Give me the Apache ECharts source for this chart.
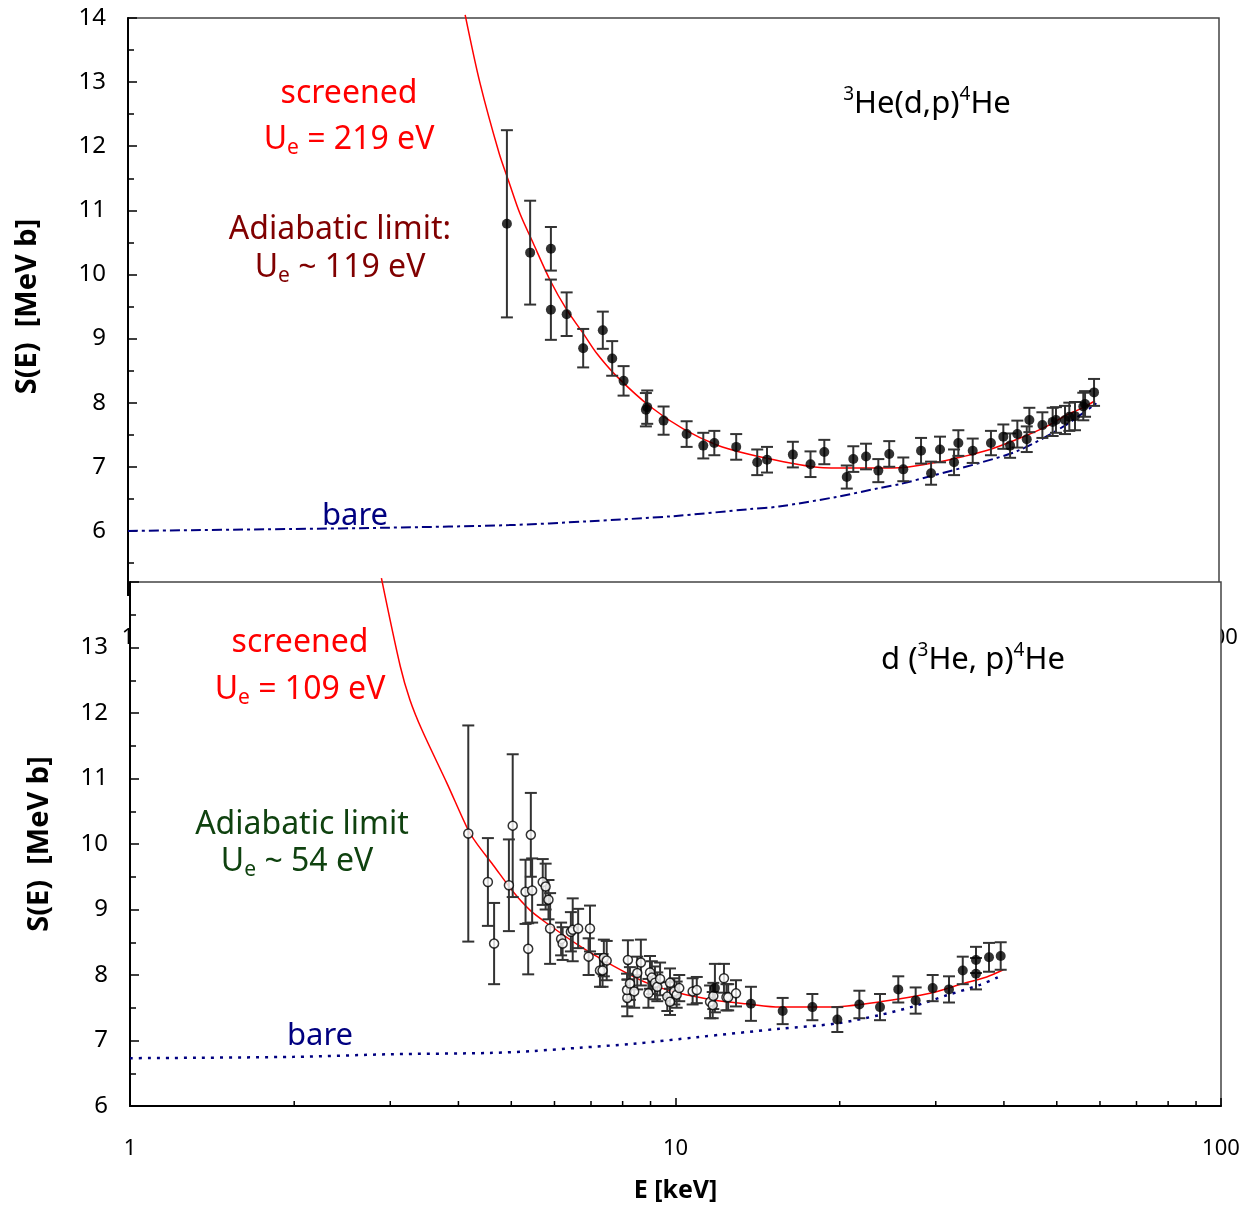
<!DOCTYPE html>
<html>
<head>
<meta charset="utf-8">
<script src="https://cdn.jsdelivr.net/npm/echarts@6/dist/echarts.min.js"></script>
<style>
  html, body { margin: 0; padding: 0; background: #fff; overflow: hidden; }
  #chart { width: 1240px; height: 1206px; }
</style>
</head>
<body>
<div id="chart"></div>
<script>
const FONT = '"Comic Sans MS", "Noto Sans", sans-serif';

// ---- 3He(d,p)4He : measured S(E) [MeV b] vs E [keV] ----
const dpE   = [4.95, 5.46, 5.96, 5.96, 6.37, 6.83, 7.42, 7.72, 8.10, 8.90, 8.95, 9.59, 10.57, 11.34, 11.88, 13.03,
               14.24, 14.84, 16.55, 17.83, 18.90, 20.78, 21.36, 22.54, 23.74, 24.86, 26.38, 28.43, 29.66, 30.80,
               32.68, 33.28, 35.36, 38.19, 40.24, 41.40, 42.69, 44.42, 44.91, 47.45, 49.55, 50.25, 52.20, 53.16,
               54.45, 56.39, 56.81, 59.01];
const dpS   = [10.79, 10.34, 10.40, 9.45, 9.38, 8.85, 9.13, 8.69, 8.34, 7.89, 7.93, 7.72, 7.51, 7.33, 7.37, 7.31,
               7.07, 7.11, 7.19, 7.04, 7.23, 6.84, 7.12, 7.16, 6.94, 7.20, 6.96, 7.25, 6.90, 7.27,
               7.07, 7.37, 7.25, 7.37, 7.47, 7.33, 7.51, 7.43, 7.73, 7.65, 7.70, 7.73, 7.73, 7.78,
               7.79, 7.94, 7.98, 8.16];
const dpErr = [1.46, 0.81, 0.34, 0.47, 0.34, 0.30, 0.29, 0.27, 0.23, 0.26, 0.26, 0.22, 0.20, 0.20, 0.19, 0.20,
               0.20, 0.20, 0.20, 0.20, 0.19, 0.18, 0.20, 0.20, 0.18, 0.20, 0.185, 0.20, 0.18, 0.20,
               0.20, 0.20, 0.19, 0.19, 0.19, 0.19, 0.21, 0.20, 0.19, 0.20, 0.22, 0.20, 0.22, 0.22,
               0.22, 0.215, 0.20, 0.21];

// screened (Ue = 219 eV) and bare S-factor curves
const dpScreenE = [4.15, 4.42, 4.79, 4.98, 5.23, 5.53, 5.94, 6.37, 6.83, 7.23, 7.87, 9.06, 10.42, 12.0, 13.81,
                   15.90, 18.56, 22.0, 26.38, 30.80, 34.0, 38.04, 43.0, 48.31, 52.58, 56.0, 59.26];
const dpScreenS = [14.05, 12.98, 11.89, 11.47, 10.95, 10.49, 9.91, 9.45, 9.08, 8.77, 8.41, 7.94, 7.59, 7.34, 7.19,
                   7.08, 6.99, 6.98, 6.99, 7.08, 7.16, 7.27, 7.44, 7.63, 7.81, 7.91, 8.03];
const dpBareE = [1, 2, 3, 5, 7, 10, 13.8, 15.6, 19.9, 23.9, 26.0, 29.5, 36.4, 43.1, 51.9, 59.6];
const dpBareS = [6.00, 6.03, 6.05, 6.09, 6.15, 6.23, 6.34, 6.38, 6.53, 6.67, 6.73, 6.85, 7.06, 7.26, 7.63, 7.99];

// ---- d(3He,p)4He : earlier data (open) and new data (filled) ----
const heOpenE = [4.17, 4.53, 4.65, 4.95, 5.03, 5.31, 5.37, 5.43, 5.46, 5.71, 5.78, 5.85, 5.89, 6.17, 6.21, 6.43,
                 6.48, 6.63, 6.93, 6.97, 7.27, 7.35, 7.39, 7.48, 8.16, 8.15, 8.18, 8.25, 8.40, 8.51, 8.64, 8.92,
                 8.98, 9.05, 9.17, 9.26, 9.37, 9.66, 9.77, 9.77, 9.95, 10.05, 10.16, 10.75, 10.94, 11.57, 11.70,
                 11.73, 12.27, 12.40, 12.49, 12.91];
const heOpenS = [10.16, 9.42, 8.48, 9.37, 10.28, 9.27, 8.40, 10.14, 9.29, 9.42, 9.35, 9.15, 8.71, 8.55, 8.48, 8.66,
                 8.69, 8.71, 8.28, 8.71, 8.07, 8.07, 8.26, 8.22, 7.65, 7.77, 8.23, 7.87, 7.75, 8.03, 8.19, 7.72,
                 8.04, 7.96, 7.88, 7.82, 7.94, 7.67, 7.88, 7.59, 7.75, 7.70, 7.80, 7.75, 7.77, 7.59, 7.54,
                 7.68, 7.95, 7.66, 7.66, 7.72];
const heOpenErr = [1.65, 0.67, 0.62, 0.70, 1.09, 0.49, 0.39, 0.64, 0.49, 0.35, 0.35, 0.30, 0.54, 0.25, 0.25, 0.30,
                   0.48, 0.30, 0.28, 0.35, 0.25, 0.25, 0.28, 0.30, 0.28, 0.25, 0.30, 0.25, 0.25, 0.25, 0.35, 0.22,
                   0.25, 0.25, 0.25, 0.22, 0.25, 0.22, 0.22, 0.20, 0.20, 0.20, 0.20, 0.20, 0.20, 0.25, 0.20,
                   0.20, 0.22, 0.20, 0.20, 0.20];
const heFillE   = [11.81, 13.75, 15.72, 17.82, 19.80, 21.73, 23.71, 25.61, 27.56, 29.61, 31.72, 33.62, 35.55, 35.55, 37.56, 39.46];
const heFillS   = [7.80, 7.56, 7.45, 7.51, 7.32, 7.55, 7.51, 7.78, 7.61, 7.80, 7.78, 8.07, 8.23, 8.02, 8.27, 8.29];
const heFillErr = [0.37, 0.26, 0.20, 0.20, 0.19, 0.21, 0.20, 0.20, 0.20, 0.20, 0.20, 0.21, 0.20, 0.24, 0.22, 0.21];

// screened (Ue = 109 eV) and bare curves
const heScreenE = [2.89, 3.13, 3.26, 3.43, 3.81, 4.17, 4.32, 4.63, 5.04, 5.41, 5.81, 6.68, 7.69, 8.86, 10.19,
                   11.73, 13.51, 15.54, 19.20, 23.71, 29.28, 33.71, 37.20, 39.9];
const heScreenS = [14.06, 12.71, 12.20, 11.74, 10.93, 10.21, 10.01, 9.68, 9.27, 8.99, 8.79, 8.44, 8.14, 7.88, 7.72,
                   7.62, 7.56, 7.51, 7.51, 7.59, 7.72, 7.87, 7.97, 8.08];
const heBareE = [1, 1.99, 3.0, 4.57, 5.49, 6.68, 8.37, 10.94, 15.54, 19.75, 23.71, 27.29, 31.42, 36.16, 39.34];
const heBareS = [6.73, 6.75, 6.79, 6.81, 6.84, 6.89, 6.95, 7.05, 7.18, 7.26, 7.39, 7.52, 7.69, 7.85, 7.98];

// log-axis minor tick positions (keV)
const xMinorTicks = [2, 3, 4, 5, 6, 7, 8, 9, 20, 30, 40, 50, 60, 70, 80, 90];

const pairs = (xs, ys) => xs.map((x, i) => [x, ys[i]]);
const bars = (xs, ys, es) => xs.map((x, i) => [x, ys[i] - es[i], ys[i] + es[i]]);

function errorBar(params, api) {
  const x = api.value(0);
  const lo = api.coord([x, api.value(1)]);
  const hi = api.coord([x, api.value(2)]);
  const w = 6;
  const style = { stroke: '#333', lineWidth: 2 };
  return {
    type: 'group',
    children: [
      { type: 'line', shape: { x1: lo[0], y1: lo[1], x2: hi[0], y2: hi[1] }, style },
      { type: 'line', shape: { x1: lo[0] - w, y1: lo[1], x2: lo[0] + w, y2: lo[1] }, style },
      { type: 'line', shape: { x1: hi[0] - w, y1: hi[1], x2: hi[0] + w, y2: hi[1] }, style }
    ]
  };
}

function minorTick(params, api) {
  const p = api.coord([api.value(0), api.value(1)]);
  return { type: 'line', shape: { x1: p[0], y1: p[1], x2: p[0], y2: p[1] - 5 },
           style: { stroke: '#000', lineWidth: 1.5 } };
}

const labelStyle = { color: '#000', fontSize: 24, fontFamily: FONT };
const nameStyle = { color: '#000', fontSize: 29, fontWeight: 'bold', fontFamily: FONT };

function yAxisCfg(gridIndex, min, hideVal, gap, z) {
  return {
    type: 'value', gridIndex, min, max: 14, interval: 1, z,
    name: 'S(E)  [MeV b]', nameLocation: 'middle', nameGap: gap, nameRotate: 90, nameTextStyle: nameStyle,
    axisLine: { show: true, lineStyle: { color: '#000', width: 2 } },
    axisTick: { show: true, inside: true, length: 9, lineStyle: { color: '#000', width: 1.5 } },
    minorTick: { show: true, splitNumber: 2, length: 6, lineStyle: { color: '#000', width: 1.5 } },
    splitLine: { show: false },
    axisLabel: { ...labelStyle, margin: 22, formatter: v => (v === hideVal ? '' : String(v)) }
  };
}

function xAxisCfg(gridIndex, z, withName) {
  const cfg = {
    type: 'log', logBase: 10, gridIndex, min: 1, max: 100, z,
    axisLine: { show: true, lineStyle: { color: '#000', width: 2 } },
    axisTick: { show: true, inside: true, length: 8, lineStyle: { color: '#000', width: 1.5 } },
    splitLine: { show: false },
    axisLabel: { ...labelStyle, fontSize: 22, margin: 32 }
  };
  if (withName) {
    Object.assign(cfg, { name: 'E [keV]', nameLocation: 'middle', nameGap: 72, nameTextStyle: { ...nameStyle, fontSize: 25 } });
  }
  return cfg;
}

function richLabel(x, y, text, color, rich, z) {
  return {
    type: 'text', x, y, z: z || 10,
    style: { text, fill: color, font: '32px ' + FONT, align: 'center', verticalAlign: 'middle', rich }
  };
}

function subRich(color) {
  return {
    m: { fontSize: 32, fontFamily: FONT, fill: color, lineHeight: 38 },
    s: { fontSize: 21, fontFamily: FONT, fill: color, lineHeight: 16, verticalAlign: 'bottom' }
  };
}
function supRich(color) {
  return {
    m: { fontSize: 31, fontFamily: FONT, fill: color, lineHeight: 38 },
    s: { fontSize: 19, fontFamily: FONT, fill: color, lineHeight: 20, verticalAlign: 'top' }
  };
}

const RED = '#ff0000', DRED = '#800000', DGREEN = '#0f420f', NAVY = '#000080';

const option = {
  animation: false,
  backgroundColor: '#fff',
  grid: [
    { left: 128, top: 18, width: 1091, height: 577, show: true, z: 0, outerBoundsMode: 'none', containLabel: false,
      borderColor: '#444', borderWidth: 1.5, backgroundColor: 'transparent' },
    { left: 130, top: 582, width: 1091, height: 524, show: true, z: 1, outerBoundsMode: 'none', containLabel: false,
      borderColor: '#444', borderWidth: 1.5, backgroundColor: '#fff' }
  ],
  xAxis: [ xAxisCfg(0, 0, false), xAxisCfg(1, 2, true) ],
  yAxis: [ yAxisCfg(0, 5, 5, 86, 0), yAxisCfg(1, 6, 14, 76, 2) ],
  series: [
    // upper panel
    { type: 'line', xAxisIndex: 0, yAxisIndex: 0, data: pairs(dpBareE, dpBareS), showSymbol: false,
      smooth: 0.3, clip: false, lineStyle: { color: NAVY, width: 2, type: [10, 4, 3, 4] }, z: 2 },
    { type: 'line', xAxisIndex: 0, yAxisIndex: 0, data: pairs(dpScreenE, dpScreenS), showSymbol: false,
      smooth: 0.3, clip: false, lineStyle: { color: RED, width: 1.5 }, z: 3 },
    { type: 'custom', xAxisIndex: 0, yAxisIndex: 0, data: bars(dpE, dpS, dpErr), renderItem: errorBar,
      encode: { x: 0, y: [1, 2] }, z: 4 },
    { type: 'scatter', xAxisIndex: 0, yAxisIndex: 0, data: pairs(dpE, dpS), symbol: 'circle', symbolSize: 10,
      itemStyle: { color: '#000' }, z: 5 },
    // lower panel
    { type: 'custom', xAxisIndex: 1, yAxisIndex: 1, data: xMinorTicks.map(v => [v, 6]), renderItem: minorTick,
      encode: { x: 0, y: 1 }, z: 3 },
    { type: 'line', xAxisIndex: 1, yAxisIndex: 1, data: pairs(heBareE, heBareS), showSymbol: false,
      smooth: 0.3, clip: false, lineStyle: { color: NAVY, width: 2.5, type: [3, 6] }, z: 2 },
    { type: 'line', xAxisIndex: 1, yAxisIndex: 1, data: pairs(heScreenE, heScreenS), showSymbol: false,
      smooth: 0.3, clip: false, lineStyle: { color: RED, width: 1.5 }, z: 3 },
    { type: 'custom', xAxisIndex: 1, yAxisIndex: 1, data: bars(heOpenE, heOpenS, heOpenErr), renderItem: errorBar,
      encode: { x: 0, y: [1, 2] }, z: 4 },
    { type: 'custom', xAxisIndex: 1, yAxisIndex: 1, data: bars(heFillE, heFillS, heFillErr), renderItem: errorBar,
      encode: { x: 0, y: [1, 2] }, z: 4 },
    { type: 'scatter', xAxisIndex: 1, yAxisIndex: 1, data: pairs(heOpenE, heOpenS), symbol: 'circle', symbolSize: 9,
      itemStyle: { color: '#fff', borderColor: '#000', borderWidth: 1.5 }, z: 5 },
    { type: 'scatter', xAxisIndex: 1, yAxisIndex: 1, data: pairs(heFillE, heFillS), symbol: 'circle', symbolSize: 10,
      itemStyle: { color: '#000' }, z: 5 }
  ],
  graphic: [
    // upper panel annotations
    richLabel(349, 94, '{m|screened}', RED, subRich(RED)),
    richLabel(349, 140, '{m|U}{s|e}{m| = 219 eV}', RED, subRich(RED)),
    richLabel(340, 230, '{m|Adiabatic limit:}', DRED, subRich(DRED)),
    richLabel(340, 268, '{m|U}{s|e}{m| ~ 119 eV}', DRED, subRich(DRED)),
    richLabel(927, 104, '{s|3}{m|He(d,p)}{s|4}{m|He}', '#000', supRich('#000')),
    richLabel(355, 516, '{m|bare}', NAVY, supRich(NAVY)),
    // lower panel annotations
    richLabel(300, 643, '{m|screened}', RED, subRich(RED)),
    richLabel(300, 690, '{m|U}{s|e}{m| = 109 eV}', RED, subRich(RED)),
    richLabel(973, 660, '{m|d (}{s|3}{m|He, p)}{s|4}{m|He}', '#000', supRich('#000')),
    richLabel(302, 825, '{m|Adiabatic limit}', DGREEN, subRich(DGREEN)),
    richLabel(297, 862, '{m|U}{s|e}{m| ~ 54 eV}', DGREEN, subRich(DGREEN)),
    richLabel(320, 1036, '{m|bare}', NAVY, supRich(NAVY))
  ]
};

const chart = echarts.init(document.getElementById('chart'), null, { renderer: 'canvas' });
chart.setOption(option);
</script>
</body>
</html>
